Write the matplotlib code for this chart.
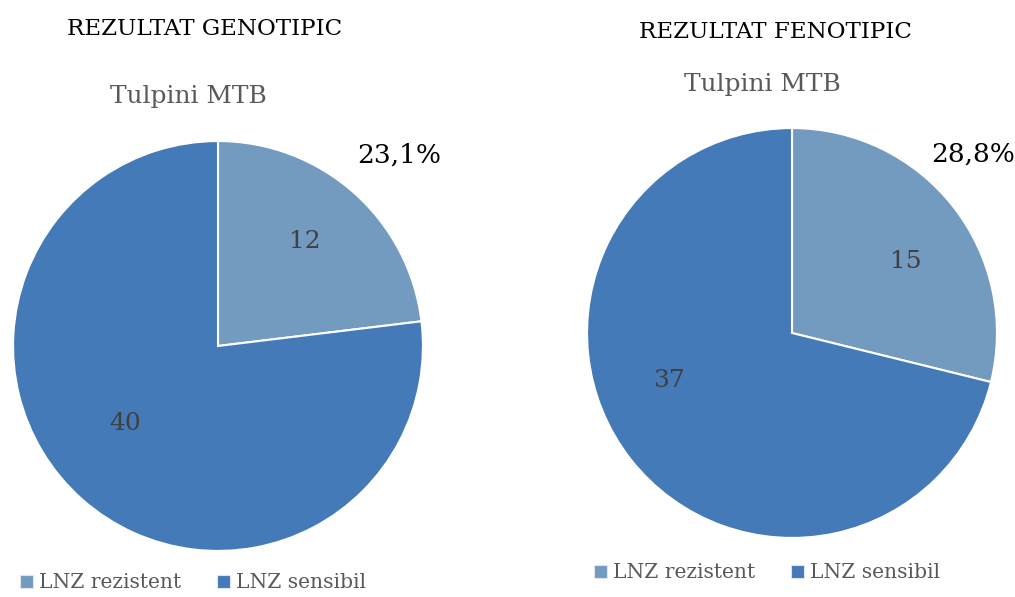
import matplotlib
matplotlib.use("Agg")
import matplotlib.pyplot as plt
from matplotlib.patches import Patch

categories = ["LNZ rezistent", "LNZ sensibil"]
geno_values = [12, 40]
feno_values = [15, 37]
geno_pct = "23,1%"
feno_pct = "28,8%"
titles = ["REZULTAT GENOTIPIC", "REZULTAT FENOTIPIC"]
subtitle = "Tulpini MTB"

colors = ["#739ABF", "#447AB7"]
FONT = ["DejaVu Serif"]
plt.rcParams["font.family"] = FONT

W, H = 1015, 597
fig = plt.figure(figsize=(W / 100, H / 100), dpi=100)

def px_axes(cx, cy, r):
    return fig.add_axes([(cx - r) / W, (H - cy - r) / H, 2 * r / W, 2 * r / H])

panels = [
    dict(cx=218, cy=346, r=207, vals=geno_values, pct=geno_pct, title=titles[0],
         title_xy=(205, 29), sub_xy=(188, 97),
         lab_xy=[(0.425, 0.51), (-0.455, -0.38)], pct_xy=(0.885, 0.93),
         leg_xy=(20, 583)),
    dict(cx=792, cy=333, r=207, vals=feno_values, pct=feno_pct, title=titles[1],
         title_xy=(775, 32), sub_xy=(762, 85),
         lab_xy=[(0.555, 0.35), (-0.60, -0.23)], pct_xy=(0.885, 0.875),
         leg_xy=(594, 573)),
]

for p in panels:
    ax = px_axes(p["cx"], p["cy"], p["r"])
    ax.pie(p["vals"], colors=colors, startangle=90, counterclock=False,
           radius=1.0, wedgeprops=dict(edgecolor="white", linewidth=1.5))
    ax.set_xlim(-1.01, 1.01)
    ax.set_ylim(-1.01, 1.01)
    ax.set_aspect("equal")
    ax.axis("off")
    for v, (lx, ly) in zip(p["vals"], p["lab_xy"]):
        ax.text(lx, ly, str(v), ha="center", va="center", fontsize=18, color="#404040")
    ax.text(p["pct_xy"][0], p["pct_xy"][1], p["pct"], ha="center", va="center",
            fontsize=19, color="black")
    fig.text(p["title_xy"][0] / W, 1 - p["title_xy"][1] / H, p["title"],
             ha="center", va="center", fontsize=16.6, color="black")
    fig.text(p["sub_xy"][0] / W, 1 - p["sub_xy"][1] / H, subtitle,
             ha="center", va="center", fontsize=17.9, color="#595959")
    handles = [Patch(facecolor=c, edgecolor="#DDE6F0", linewidth=0.8) for c in colors]
    fig.legend(handles, categories, loc="center left",
               bbox_to_anchor=(p["leg_xy"][0] / W, 1 - p["leg_xy"][1] / H),
               ncol=2, frameon=False, fontsize=14.6, labelcolor="#595959",
               handlelength=0.65, handleheight=0.65, handletextpad=0.3,
               columnspacing=1.76, borderpad=0, borderaxespad=0)

fig.savefig("out.png", dpi=100)
